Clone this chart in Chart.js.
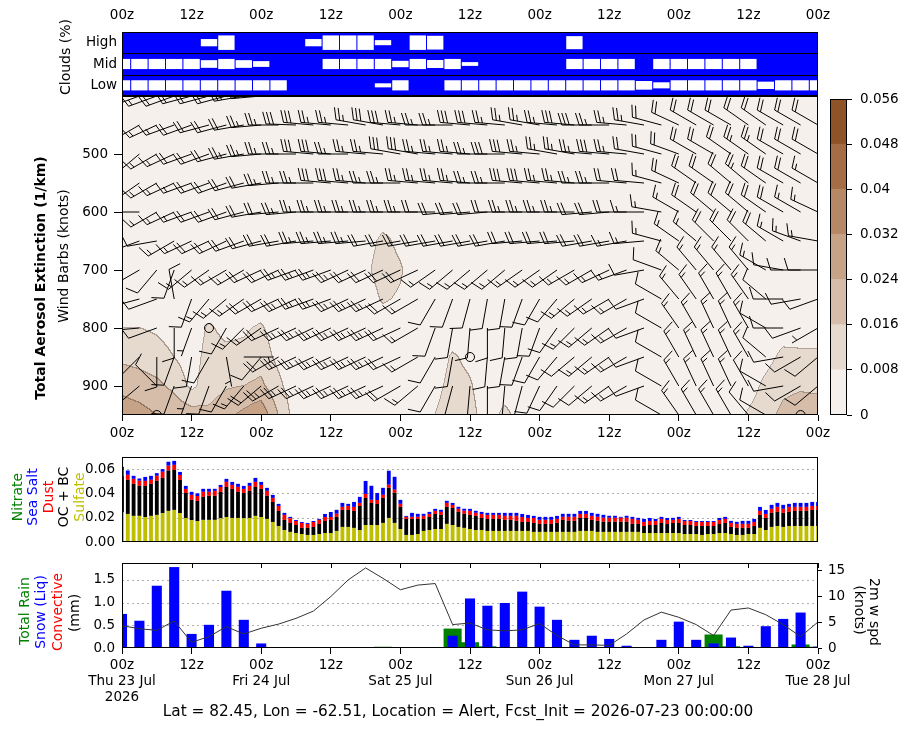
<!DOCTYPE html>
<html>
<head>
<meta charset="utf-8">
<title>Meteogram - Alert</title>
<script src="https://cdn.jsdelivr.net/npm/chart.js@4.4.1/dist/chart.umd.min.js"></script>
<style>
  body { margin: 0; background: #fff; }
  #page { position: relative; width: 909px; height: 730px; overflow: hidden; font-family: "DejaVu Sans", sans-serif; color: #000; }
  #page canvas { position: absolute; }
  .lab { position: absolute; white-space: nowrap; font-size: 14px; line-height: 1; transform: translate(-50%, -50%) rotate(-90deg); }
  .lab.cw { transform: translate(-50%, -50%) rotate(90deg); }
  .title { position: absolute; white-space: nowrap; font-size: 15.3px; transform: translate(-50%, -50%); }
</style>
</head>
<body>
<div id="page">
  <canvas id="cloudChart" width="909" height="100" style="left:0;top:0"></canvas>
  <canvas id="extChart" width="909" height="360" style="left:0;top:90px"></canvas>
  <canvas id="cbarChart" width="89" height="340" style="left:820px;top:90px"></canvas>
  <canvas id="specChart" width="909" height="110" style="left:0;top:450px"></canvas>
  <canvas id="precipChart" width="909" height="175" style="left:0;top:555px"></canvas>

  <div class="lab" style="left:65px;top:57px">Clouds (%)</div>
  <div class="lab" style="left:40px;top:278px;font-weight:bold">Total Aerosol Extinction (1/km)</div>
  <div class="lab" style="left:63px;top:256px">Wind Barbs (knots)</div>

  <div class="lab" style="left:17px;top:497px;color:#008000">Nitrate</div>
  <div class="lab" style="left:32px;top:497px;color:#0000ff">Sea Salt</div>
  <div class="lab" style="left:48px;top:497px;color:#ff0000">Dust</div>
  <div class="lab" style="left:63px;top:497px">OC + BC</div>
  <div class="lab" style="left:79px;top:497px;color:#bfbf00">Sulfate</div>

  <div class="lab" style="left:24px;top:611px;color:#008000">Total Rain</div>
  <div class="lab" style="left:40px;top:612px;color:#0000ff">Snow (Liq)</div>
  <div class="lab" style="left:57px;top:612px;color:#ff0000">Convective</div>
  <div class="lab" style="left:74px;top:613px">(mm)</div>

  <div class="lab cw" style="left:875px;top:612px">2m w spd</div>
  <div class="lab cw" style="left:860px;top:610px">(knots)</div>

  <div class="title" style="left:458px;top:711px">Lat = 82.45, Lon = -62.51, Location = Alert, Fcst_Init = 2026-07-23 00:00:00</div>
</div>

<script>
// ---- time axis ----
const TICK_HOURS = [0, 12, 24, 36, 48, 60, 72, 84, 96, 108, 120];
const TICK_LABELS = ['00z', '12z', '00z', '12z', '00z', '12z', '00z', '12z', '00z', '12z', '00z'];
const DAY_LABELS = ['Thu 23 Jul', 'Fri 24 Jul', 'Sat 25 Jul', 'Sun 26 Jul', 'Mon 27 Jul', 'Tue 28 Jul'];
const YEAR_LABEL = '2026';
const HOURS3 = [0,3,6,9,12,15,18,21,24,27,30,33,36,39,42,45,48,51,54,57,60,63,66,69,72,75,78,81,84,87,90,93,96,99,102,105,108,111,114,117,120];
const HOURS1 = Array.from({ length: 121 }, (_, i) => i);

// ---- clouds (% cover, 3-hourly) ----
const CLOUD_ROWS = ['Low', 'Mid', 'High'];
const CLOUD_HIGH = [100,100,100,100,100,50,0,100,100,100,100,50,0,0,0,65,100,0,5,100,100,100,100,100,100,100,10,100,100,100,100,100,100,100,100,100,100,100,100,100,100];
const CLOUD_MID  = [30,30,30,30,30,47,30,47,60,100,100,100,30,30,30,30,56,30,45,30,74,100,100,100,100,100,30,30,30,30,100,30,30,30,30,30,30,100,100,100,100];
const CLOUD_LOW  = [30,30,30,30,30,30,30,30,30,30,100,100,100,100,100,72,30,100,100,30,30,30,30,30,30,30,30,30,30,30,40,58,30,30,30,30,30,49,30,30,30];

// ---- aerosol extinction (x0.001 1/km) on pressure levels, 3-hourly ----
const LEVELS = [400, 450, 500, 550, 600, 650, 700, 750, 800, 850, 900, 950];
const PRES_TICKS = [500, 600, 700, 800, 900];
const EXT_400 = [3,3,3,3,3,3,3,3,3,3,3,3,3,3,3,3,3,3,3,3,3,3,3,3,3,3,3,3,3,3,3,3,3,3,3,3,3,3,3,3,3];
const EXT_450 = [3,3,3,3,3,3,3,3,3,3,3,3,3,3,3,3,3,3,3,3,3,3,3,3,3,3,3,3,3,3,3,3,3,3,3,3,3,3,3,3,3];
const EXT_500 = [3,3,3,3,3,3,3,3,3,3,3,3,3,3,3,3,3,3,3,3,3,3,3,3,3,3,3,3,3,3,3,3,3,3,3,3,3,3,3,3,3];
const EXT_550 = [3,3,3,3,3,3,3,3,3,3,3,3,3,3,3,3,3,3,3,3,3,3,3,3,3,3,3,3,3,3,3,3,3,3,3,3,3,3,3,3,3];
const EXT_600 = [3,3,3,3,3,3,3,3,3,3,3,3,3,3,3,3,3,3,3,3,3,3,3,3,3,3,3,3,3,3,3,3,3,3,3,3,3,3,3,3,3];
const EXT_650 = [3,3,3,3,3,3,3,3,3,3,3,3,3,3,4,10,6,3,3,3,3,3,3,3,3,3,3,3,3,3,3,3,3,3,3,3,3,3,3,3,3];
const EXT_700 = [3,3,3,3,3,3,3,3,3,3,3,3,3,3,6,12,9,3,3,3,3,3,3,3,3,3,3,3,3,3,3,3,3,3,3,3,3,3,3,3,3];
const EXT_750 = [4,3,3,3,3,3,3,3,3,3,3,3,3,3,3,9,7,3,3,3,3,3,3,3,3,3,3,3,3,3,3,3,3,3,3,3,3,3,3,3,3];
const EXT_800 = [8,8,7,5,3,9,6,7,9,4,3,3,3,3,3,3,3,3,3,3,3,3,3,3,3,3,3,3,3,3,3,3,3,3,3,3,3,3,4,3,3];
const EXT_850 = [14,13,11,8,4,11,10,10,12,6,3,3,3,3,3,3,3,3,3,9,6,3,3,3,3,3,3,3,3,3,3,3,3,3,3,3,3,5,10,10,10];
const EXT_900 = [22,20,18,14,6,12,15,16,18,10,3,3,3,3,3,3,3,3,5,11,9,3,4,3,3,3,3,3,3,3,3,3,3,3,3,3,4,10,14,15,14];
const EXT_950 = [28,27,24,22,20,18,22,26,30,16,4,3,3,3,3,3,3,3,8,13,11,4,10,5,3,3,3,3,3,3,3,3,3,3,3,3,9,13,18,20,21];
const EXT_UNIT = 0.001;
const CBAR_BOUNDS = [0, 0.008, 0.016, 0.024, 0.032, 0.04, 0.048, 0.056];
const CBAR_COLORS = ['#f5f0eb', '#e6d9cd', '#d6bda9', '#c6a386', '#b68866', '#a46d45', '#8e5326'];

// ---- wind barbs (direction deg, speed kt), 3-hourly per level ----
const WDIR_400 = [245,250,250,250,255,255,255,260,265,270,270,275,275,275,275,280,280,275,275,275,275,275,280,280,280,275,275,275,280,280,280,285,290,295,300,300,300,300,300,300,300];
const WSPD_400 = [15,15,15,20,20,20,20,25,25,25,25,30,30,30,25,25,25,30,30,30,25,25,25,25,30,30,25,25,25,25,25,20,20,20,20,20,20,20,20,20,20];
const WDIR_450 = [235,240,245,250,250,255,255,260,265,270,272,275,275,275,280,280,275,275,270,270,275,275,275,280,280,275,275,270,270,275,280,285,295,300,300,300,305,305,300,300,300];
const WSPD_450 = [10,15,15,15,20,20,20,20,25,25,30,30,25,25,25,30,30,25,25,25,30,30,25,25,25,25,30,30,25,25,25,20,20,20,20,20,20,20,20,20,20];
const WDIR_500 = [240,230,240,245,250,250,255,260,265,270,270,275,275,270,275,275,280,280,275,275,275,270,270,275,275,280,280,275,275,275,280,285,290,300,300,305,305,305,300,300,300];
const WSPD_500 = [10,15,15,15,20,20,20,25,25,25,25,30,30,25,25,25,30,30,25,25,25,25,30,30,25,25,25,25,30,25,20,20,20,20,20,20,25,25,20,20,20];
const WDIR_550 = [230,235,240,245,250,250,250,255,260,265,270,270,275,275,275,270,270,275,275,275,275,270,270,275,275,275,275,270,270,275,275,285,295,305,305,310,310,305,300,300,300];
const WSPD_550 = [10,15,15,15,15,20,20,20,20,25,25,25,30,30,25,25,25,25,25,25,25,25,25,30,30,25,25,25,25,20,20,15,20,20,20,20,25,20,20,20,15];
const WDIR_600 = [260,270,240,245,250,250,250,255,260,265,265,270,270,270,270,270,270,270,270,265,265,265,270,270,270,270,270,265,265,270,270,280,300,305,310,310,310,305,300,300,295];
const WSPD_600 = [10,10,15,15,15,20,20,20,20,20,25,25,25,25,25,25,25,25,20,20,20,20,20,25,25,25,25,20,20,20,15,15,15,20,20,20,20,20,20,15,15];
const WDIR_650 = [240,250,260,240,245,245,245,250,255,260,260,265,265,265,265,260,260,260,260,260,260,260,260,265,265,265,265,260,260,260,265,285,305,310,315,315,315,310,300,290,280];
const WSPD_650 = [10,10,10,15,15,20,20,20,20,20,20,25,25,25,25,20,20,20,20,20,20,20,20,20,20,20,20,20,20,15,15,15,15,15,20,20,20,20,15,15,15];
const WDIR_700 = [250,240,220,200,230,235,240,240,245,245,250,250,250,245,245,245,245,245,235,230,230,230,230,235,235,235,240,240,245,250,260,290,310,320,320,320,320,300,280,270,270];
const WSPD_700 = [10,10,10,10,15,15,15,15,20,20,25,25,25,25,20,20,20,20,15,15,15,15,15,15,15,15,15,15,15,15,10,10,15,15,15,15,15,15,10,10,10];
const WDIR_750 = [260,255,250,350,200,220,230,235,240,245,245,250,250,245,245,245,240,240,210,200,195,190,190,200,210,220,230,235,240,240,250,300,320,325,330,330,325,310,270,260,250];
const WSPD_750 = [10,10,10,10,10,15,15,15,20,20,25,25,25,25,25,25,20,15,10,10,10,10,10,10,10,10,15,15,15,15,10,10,15,15,15,15,15,10,10,10,10];
const WDIR_800 = [270,265,250,180,200,0,210,225,235,245,245,245,245,245,245,245,245,240,200,190,185,180,185,190,200,215,225,230,235,240,250,300,325,330,335,335,330,300,270,250,240];
const WSPD_800 = [10,10,10,10,5,0,10,15,15,20,25,25,25,25,25,25,20,15,10,10,10,10,10,10,10,10,15,15,15,15,10,10,15,15,15,15,15,10,10,10,5];
const WDIR_850 = [230,225,180,200,190,210,170,90,220,240,245,245,245,245,245,245,245,240,210,190,0,185,190,200,210,220,230,230,235,240,250,300,330,335,335,335,330,310,260,240,230];
const WSPD_850 = [15,10,10,10,10,10,5,5,10,20,25,25,25,25,25,25,20,15,10,10,0,10,10,10,10,10,10,15,15,15,10,10,15,15,15,15,15,10,10,10,10];
const WDIR_900 = [225,230,315,200,200,200,210,220,230,240,245,245,245,245,245,245,240,230,210,195,185,180,185,195,205,215,225,230,235,240,250,300,330,335,335,335,330,300,260,240,230];
const WSPD_900 = [15,10,10,10,5,10,10,15,20,25,25,25,25,25,25,25,20,15,10,10,10,10,10,10,10,10,10,10,15,15,10,10,15,15,15,15,10,10,10,10,10];
const WDIR_950 = [220,225,0,200,210,210,215,225,235,240,245,245,245,245,245,240,235,225,205,195,185,180,185,195,200,210,220,225,230,235,250,300,325,330,330,330,320,300,250,0,230];
const WSPD_950 = [10,10,0,10,10,10,10,15,15,20,20,25,25,20,20,20,20,15,10,10,10,10,10,10,10,10,10,10,10,10,10,10,15,15,15,15,10,10,10,0,10];

// ---- aerosol species (1/km), hourly ----
const SPEC_TICKS = [0, 0.02, 0.04, 0.06];
const SULFATE = [.0242,.0231,.0215,.0215,.0206,.0215,.0223,.0239,.0256,.0264,.0239,.0198,.0179,.0173,.0182,.0182,.0182,.0195,.0206,.0198,.0198,.0195,.0198,.0215,.0206,.0190,.0165,.0132,.0099,.0083,.0074,.0066,.0058,.0058,.0066,.0074,.0074,.0091,.0124,.0124,.0116,.0099,.0140,.0140,.0140,.0157,.0198,.0157,.0107,.0058,.0058,.0066,.0091,.0099,.0107,.0107,.0149,.0140,.0124,.0116,.0107,.0099,.0099,.0091,.0091,.0091,.0091,.0091,.0091,.0091,.0091,.0083,.0083,.0083,.0083,.0083,.0083,.0083,.0083,.0091,.0091,.0091,.0083,.0083,.0083,.0083,.0083,.0083,.0083,.0083,.0074,.0074,.0074,.0074,.0074,.0074,.0074,.0066,.0066,.0066,.0058,.0066,.0066,.0074,.0074,.0066,.0058,.0058,.0066,.0066,.0116,.0099,.0124,.0132,.0124,.0132,.0132,.0132,.0132,.0132,.0132];
const OC_BC = [.0305,.0281,.0264,.0248,.0256,.0264,.0281,.0289,.0333,.0330,.0272,.0206,.0168,.0165,.0190,.0198,.0198,.0217,.0248,.0239,.0215,.0209,.0223,.0239,.0231,.0190,.0165,.0124,.0083,.0074,.0066,.0050,.0058,.0066,.0083,.0099,.0107,.0116,.0140,.0140,.0140,.0198,.0223,.0182,.0173,.0206,.0248,.0248,.0182,.0132,.0132,.0124,.0099,.0107,.0124,.0116,.0140,.0140,.0124,.0116,.0116,.0116,.0099,.0099,.0099,.0099,.0091,.0091,.0083,.0074,.0074,.0074,.0066,.0066,.0066,.0074,.0099,.0091,.0091,.0107,.0107,.0091,.0091,.0083,.0083,.0083,.0083,.0083,.0066,.0066,.0058,.0066,.0066,.0083,.0074,.0083,.0083,.0074,.0074,.0066,.0074,.0066,.0066,.0074,.0083,.0058,.0058,.0058,.0050,.0066,.0107,.0099,.0116,.0116,.0116,.0116,.0124,.0124,.0124,.0132,.0132];
const DUST = [.0039,.0041,.0041,.0041,.0041,.0033,.0041,.0050,.0039,.0041,.0041,.0033,.0041,.0041,.0041,.0033,.0041,.0041,.0041,.0033,.0041,.0033,.0041,.0041,.0033,.0041,.0033,.0041,.0041,.0039,.0033,.0041,.0033,.0041,.0033,.0033,.0025,.0025,.0025,.0033,.0033,.0025,.0033,.0025,.0033,.0025,.0025,.0025,.0025,.0017,.0017,.0017,.0025,.0025,.0025,.0025,.0033,.0025,.0025,.0025,.0033,.0025,.0033,.0033,.0033,.0033,.0033,.0033,.0041,.0041,.0033,.0041,.0033,.0033,.0033,.0033,.0025,.0033,.0033,.0033,.0033,.0033,.0033,.0033,.0033,.0033,.0033,.0033,.0041,.0033,.0033,.0033,.0033,.0033,.0033,.0025,.0033,.0033,.0033,.0033,.0033,.0033,.0033,.0033,.0033,.0033,.0033,.0033,.0033,.0033,.0033,.0033,.0033,.0041,.0033,.0041,.0033,.0033,.0033,.0033,.0033];
const SEA_SALT = [.0033,.0036,.0025,.0019,.0033,.0033,.0022,.0022,.0033,.0033,.0025,.0025,.0025,.0022,.0025,.0025,.0017,.0017,.0025,.0025,.0025,.0025,.0025,.0033,.0025,.0025,.0025,.0017,.0017,.0011,.0008,.0008,.0008,.0008,.0008,.0025,.0041,.0033,.0033,.0017,.0041,.0050,.0107,.0116,.0058,.0058,.0116,.0107,.0033,.0008,.0033,.0025,.0017,.0017,.0017,.0017,.0017,.0017,.0017,.0017,.0017,.0017,.0017,.0017,.0017,.0017,.0025,.0025,.0025,.0025,.0025,.0017,.0025,.0025,.0025,.0025,.0025,.0025,.0025,.0025,.0025,.0025,.0025,.0025,.0017,.0017,.0008,.0017,.0017,.0017,.0025,.0025,.0017,.0017,.0017,.0017,.0017,.0008,.0008,.0008,.0008,.0008,.0008,.0017,.0017,.0017,.0017,.0025,.0025,.0025,.0033,.0033,.0033,.0033,.0033,.0025,.0033,.0033,.0033,.0033,.0033];

// ---- precipitation (mm / 3h) and 2 m wind (kt) ----
const PRECIP_TICKS = [0, 0.5, 1.0, 1.5];
const WIND_TICKS = [0, 5, 10, 15];
const SNOW_LIQ = [0.75,0.60,1.37,1.78,0.31,0.51,1.26,0.62,0.10,0,0,0,0,0,0,0,0,0,0,0.27,1.09,0.93,0.99,1.24,0.91,0.62,0.18,0.27,0.20,0.05,0,0.18,0.58,0.18,0.10,0.23,0.05,0.48,0.64,0.78,0.03];
const TOTAL_RAIN = [0,0,0,0,0,0,0,0,0,0,0,0,0,0,0,0.02,0,0,0,0.42,0.12,0.03,0,0,0,0,0,0,0,0,0,0,0,0,0.29,0.03,0,0,0,0.07,0.02];
const WSPD_2M = [4.3,3.7,3.4,5.2,1.1,2.2,4.1,2.7,3.8,4.6,5.7,7.1,9.9,13.1,15.4,13.4,11.2,12.1,12.4,4.5,4.8,3.5,3.3,3.5,4.7,2.4,0.6,0.6,0.5,2.7,5.4,6.9,5.9,4.5,2.4,7.3,7.7,6.4,4.5,2.2,5.0];

// ---------------------------------------------------------------
const FONT = { family: 'DejaVu Sans', size: 13.5, lineHeight: 1.19 };
const EXT_GRID = [EXT_400, EXT_450, EXT_500, EXT_550, EXT_600, EXT_650, EXT_700, EXT_750, EXT_800, EXT_850, EXT_900, EXT_950];
const WDIR = [WDIR_400, WDIR_450, WDIR_500, WDIR_550, WDIR_600, WDIR_650, WDIR_700, WDIR_750, WDIR_800, WDIR_850, WDIR_900, WDIR_950];
const WSPD = [WSPD_400, WSPD_450, WSPD_500, WSPD_550, WSPD_600, WSPD_650, WSPD_700, WSPD_750, WSPD_800, WSPD_850, WSPD_900, WSPD_950];

function setTicks(list) {
  return s => { s.ticks = list.map(v => ({ value: v })); };
}

// fix an axis box size and drop the label-overflow padding chart.js adds
function fitBox(dim, size) {
  return s => {
    if (dim) s[dim] = size;
    s.paddingTop = 0; s.paddingBottom = 0; s.paddingLeft = 0; s.paddingRight = 0;
  };
}

const NO_GRID = { display: false, drawTicks: false };

function timeAxis(opts) {
  return Object.assign({
    type: 'linear', min: 0, max: 120, offset: false,
    afterBuildTicks: setTicks(TICK_HOURS),
    ticks: { color: '#000', font: FONT, maxRotation: 0, autoSkip: false, padding: 4,
      callback: (v, i) => TICK_LABELS[i] },
    grid: { drawOnChartArea: false, drawTicks: true, tickLength: 6, tickColor: '#000', offset: false },
    border: { display: false }
  }, opts);
}

// black frame round the plot area, with optional extra drawing
function framePlugin(id, extra) {
  return {
    id: id,
    beforeDatasetsDraw(chart) {
      if (extra && extra.before) extra.before(chart);
    },
    afterDraw(chart) {
      const { ctx, chartArea: a } = chart;
      if (extra && extra.after) extra.after(chart);
      ctx.save();
      ctx.strokeStyle = '#000';
      ctx.lineWidth = 1;
      ctx.strokeRect(Math.round(a.left) + 0.5, Math.round(a.top) + 0.5, Math.round(a.right - a.left) - 1, Math.round(a.bottom - a.top) - 1);
      ctx.restore();
    }
  };
}

function dottedGrid(chart, axisId, values) {
  const { ctx, chartArea: a } = chart;
  const sc = chart.scales[axisId];
  ctx.save();
  ctx.strokeStyle = '#b0b0b0';
  ctx.lineWidth = 1;
  ctx.setLineDash([2, 3]);
  values.forEach(v => {
    const y = Math.round(sc.getPixelForValue(v)) + 0.5;
    ctx.beginPath(); ctx.moveTo(a.left, y); ctx.lineTo(a.right, y); ctx.stroke();
  });
  ctx.restore();
}

const common = {
  responsive: false, animation: false, devicePixelRatio: 1,
  plugins: { legend: { display: false }, tooltip: { enabled: false } }
};

// ================= clouds =================
function cloudData(values, row) {
  const out = [];
  values.forEach((c, i) => {
    if (c >= 100) return;
    const half = (100 - c) / 100 * 0.34;
    out.push({ x: HOURS3[i], y: [row + 0.5 - half, row + 0.5 + half] });
  });
  return out;
}
const cloudBar = { backgroundColor: '#ffffff', borderWidth: 0, grouped: false, barPercentage: 0.94, categoryPercentage: 1 };

new Chart(document.getElementById('cloudChart'), {
  type: 'bar',
  data: {
    datasets: [
      Object.assign({ label: 'High', data: cloudData(CLOUD_HIGH, 2) }, cloudBar),
      Object.assign({ label: 'Mid', data: cloudData(CLOUD_MID, 1) }, cloudBar),
      Object.assign({ label: 'Low', data: cloudData(CLOUD_LOW, 0) }, cloudBar)
    ]
  },
  options: Object.assign({}, common, {
    layout: { padding: { left: 0, right: 91, top: 0, bottom: 4 } },
    scales: {
      x: timeAxis({ position: 'top', afterFit: fitBox('height', 32), grid: NO_GRID,
        ticks: { color: '#000', font: FONT, maxRotation: 0, autoSkip: false, padding: 8, callback: (v, i) => TICK_LABELS[i] } }),
      y: { min: 0, max: 3, afterFit: fitBox('width', 122),
        afterBuildTicks: setTicks([0.5, 1.5, 2.5]),
        ticks: { color: '#000', font: FONT, padding: 5, callback: (v, i) => CLOUD_ROWS[i] },
        grid: NO_GRID, border: { display: false } }
    }
  }),
  plugins: [framePlugin('cloudFrame', {
    before(chart) {
      const { ctx, chartArea: a } = chart;
      ctx.save(); ctx.fillStyle = '#0000ff';
      ctx.fillRect(a.left, a.top, a.right - a.left, a.bottom - a.top); ctx.restore();
    },
    after(chart) {
      const { ctx, chartArea: a, scales } = chart;
      ctx.save(); ctx.strokeStyle = '#000'; ctx.lineWidth = 1;
      [1, 2].forEach(v => {
        const y = Math.round(scales.y.getPixelForValue(v)) + 0.5;
        ctx.beginPath(); ctx.moveTo(a.left, y); ctx.lineTo(a.right, y); ctx.stroke();
      });
      ctx.restore();
    }
  })]
});

// ================= extinction + wind barbs =================
function locate(arr, v) {
  if (v <= arr[0]) return [0, 0];
  for (let n = 0; n < arr.length - 1; n++) {
    if (v <= arr[n + 1]) return [n, (v - arr[n]) / (arr[n + 1] - arr[n])];
  }
  return [arr.length - 2, 1];
}

const contourPlugin = {
  id: 'contour',
  beforeDatasetsDraw(chart) {
    const { ctx, chartArea: a, scales } = chart;
    const x0 = Math.round(a.left), y0 = Math.round(a.top);
    const w = Math.round(a.right) - x0, h = Math.round(a.bottom) - y0;
    const cols = [], rows = [];
    for (let i = 0; i < w; i++) cols.push(locate(HOURS3, scales.x.getValueForPixel(x0 + i + 0.5)));
    for (let j = 0; j < h; j++) rows.push(locate(LEVELS, scales.y.getValueForPixel(y0 + j + 0.5)));
    const lev = new Int8Array(w * h);
    for (let j = 0; j < h; j++) {
      const [l, fy] = rows[j];
      const r0 = EXT_GRID[l], r1 = EXT_GRID[l + 1];
      for (let i = 0; i < w; i++) {
        const [k, fx] = cols[i];
        const top = r0[k] * (1 - fx) + r0[k + 1] * fx;
        const bot = r1[k] * (1 - fx) + r1[k + 1] * fx;
        const v = (top * (1 - fy) + bot * fy) * EXT_UNIT;
        let n = 0;
        while (n < CBAR_BOUNDS.length - 2 && v >= CBAR_BOUNDS[n + 1]) n++;
        lev[j * w + i] = n;
      }
    }
    const rgb = CBAR_COLORS.map(c => [parseInt(c.slice(1, 3), 16), parseInt(c.slice(3, 5), 16), parseInt(c.slice(5, 7), 16)]);
    const img = ctx.createImageData(w, h);
    for (let j = 0; j < h; j++) {
      for (let i = 0; i < w; i++) {
        const idx = j * w + i, n = lev[idx];
        let c = rgb[n];
        const edge = (i < w - 1 && lev[idx + 1] !== n) || (j < h - 1 && lev[idx + w] !== n);
        if (edge) c = [c[0] * 0.72, c[1] * 0.68, c[2] * 0.66];
        img.data[idx * 4] = c[0]; img.data[idx * 4 + 1] = c[1]; img.data[idx * 4 + 2] = c[2]; img.data[idx * 4 + 3] = 255;
      }
    }
    ctx.putImageData(img, x0, y0);
  }
};

function drawBarb(ctx, x, y, dir, spd) {
  const L = 30;
  const r = Math.round(spd / 5) * 5;
  if (r < 5) {
    ctx.beginPath(); ctx.arc(x, y, 0.15 * L, 0, Math.PI * 2); ctx.stroke();
    return;
  }
  const t = dir * Math.PI / 180;
  const sx = Math.sin(t), sy = -Math.cos(t);
  const px = -sy, py = sx;
  const H = 0.4 * L, W = 0.25 * L, sp = 0.125 * L;
  const n50 = Math.floor(r / 50);
  const rest = r - n50 * 50;
  const n10 = Math.floor(rest / 10);
  const n5 = rest % 10 >= 5 ? 1 : 0;
  ctx.beginPath();
  ctx.moveTo(x, y); ctx.lineTo(x + sx * L, y + sy * L);
  let off = L;
  for (let i = 0; i < n50; i++) {
    const bx = x + sx * off, by = y + sy * off;
    ctx.moveTo(bx, by);
    ctx.lineTo(bx + px * H + sx * W / 2, by + py * H + sy * W / 2);
    ctx.lineTo(bx - sx * W, by - sy * W);
    off -= W + sp;
  }
  if (n50 === 0 && n10 === 0) off -= 1.5 * sp;
  for (let i = 0; i < n10; i++) {
    const bx = x + sx * off, by = y + sy * off;
    ctx.moveTo(bx, by);
    ctx.lineTo(bx + px * H + sx * W / 2, by + py * H + sy * W / 2);
    off -= sp;
  }
  if (n5) {
    const bx = x + sx * off, by = y + sy * off;
    ctx.moveTo(bx, by);
    ctx.lineTo(bx + px * H / 2 + sx * W / 4, by + py * H / 2 + sy * W / 4);
  }
  ctx.stroke();
}

const barbPlugin = {
  id: 'barbs',
  afterDatasetsDraw(chart) {
    const { ctx, chartArea: a } = chart;
    const meta = chart.getDatasetMeta(0);
    const raw = chart.data.datasets[0].data;
    ctx.save();
    ctx.beginPath(); ctx.rect(a.left, a.top, a.right - a.left, a.bottom - a.top); ctx.clip();
    ctx.strokeStyle = '#000'; ctx.lineWidth = 1;
    meta.data.forEach((pt, i) => drawBarb(ctx, pt.x, pt.y, raw[i].dir, raw[i].spd));
    ctx.restore();
  }
};

const barbPoints = [];
LEVELS.forEach((p, li) => {
  HOURS3.forEach((hr, k) => barbPoints.push({ x: hr, y: p, dir: WDIR[li][k], spd: WSPD[li][k] }));
});

new Chart(document.getElementById('extChart'), {
  type: 'scatter',
  data: { datasets: [{ label: 'Wind', data: barbPoints, pointRadius: 0, showLine: false }] },
  options: Object.assign({}, common, {
    layout: { padding: { left: 0, right: 91, top: 6, bottom: 0 } },
    scales: {
      x: timeAxis({ afterFit: fitBox('height', 35) }),
      y: { min: 400, max: 950, reverse: true, afterFit: fitBox('width', 122),
        afterBuildTicks: setTicks(PRES_TICKS),
        ticks: { color: '#000', font: FONT, padding: 6 },
        grid: { drawOnChartArea: false, tickLength: 8, tickColor: '#000' }, border: { display: false } }
    }
  }),
  plugins: [contourPlugin, barbPlugin, framePlugin('extFrame')]
});

// ================= colour bar =================
new Chart(document.getElementById('cbarChart'), {
  type: 'bar',
  data: {
    labels: [''],
    datasets: CBAR_COLORS.map((c, i) => ({
      data: [CBAR_BOUNDS[i + 1] - CBAR_BOUNDS[i]], backgroundColor: c, borderWidth: 0,
      barPercentage: 1, categoryPercentage: 1
    }))
  },
  options: Object.assign({}, common, {
    layout: { padding: { left: 10, right: 0, top: 9, bottom: 15 } },
    scales: {
      x: { display: false, stacked: true },
      y: { stacked: true, position: 'right', min: 0, max: 0.056, afterFit: fitBox('width', 62),
        afterBuildTicks: setTicks(CBAR_BOUNDS),
        ticks: { color: '#000', font: FONT, padding: 8, callback: v => String(+v.toFixed(3)) },
        grid: { drawOnChartArea: false, tickLength: 5, tickColor: '#000' }, border: { display: false } }
    }
  }),
  plugins: [framePlugin('cbarFrame')]
});

// ================= aerosol species =================
function hourly(values) { return values.map((v, i) => ({ x: HOURS1[i], y: v })); }
const specBar = { borderWidth: 0, barPercentage: 0.66, categoryPercentage: 1 };

new Chart(document.getElementById('specChart'), {
  type: 'bar',
  data: {
    datasets: [
      Object.assign({ label: 'Sulfate', data: hourly(SULFATE), backgroundColor: '#bfbf00' }, specBar),
      Object.assign({ label: 'OC + BC', data: hourly(OC_BC), backgroundColor: '#000000' }, specBar),
      Object.assign({ label: 'Dust', data: hourly(DUST), backgroundColor: '#ff0000' }, specBar),
      Object.assign({ label: 'Sea Salt', data: hourly(SEA_SALT), backgroundColor: '#0000ff' }, specBar)
    ]
  },
  options: Object.assign({}, common, {
    layout: { padding: { left: 0, right: 91, top: 7, bottom: 18 } },
    scales: {
      x: { type: 'linear', min: 0, max: 120, offset: false, stacked: true, display: false },
      y: { stacked: true, min: 0, max: 0.07, afterFit: fitBox('width', 122),
        afterBuildTicks: setTicks(SPEC_TICKS),
        ticks: { color: '#000', font: FONT, padding: 7, callback: v => v.toFixed(2) },
        grid: NO_GRID, border: { display: false } }
    }
  }),
  plugins: [framePlugin('specFrame', { before: c => dottedGrid(c, 'y', SPEC_TICKS.slice(1)) })]
});

// ================= precipitation + 2 m wind =================
function threeHourly(values) { return values.map((v, i) => ({ x: HOURS3[i], y: v })); }

new Chart(document.getElementById('precipChart'), {
  type: 'bar',
  data: {
    datasets: [
      { type: 'line', label: '2m w spd', data: threeHourly(WSPD_2M), yAxisID: 'y1',
        borderColor: '#333333', borderWidth: 1, pointRadius: 0, tension: 0 },
      { label: 'Snow (Liq)', data: threeHourly(SNOW_LIQ), backgroundColor: '#0000ff', borderWidth: 0,
        grouped: false, barPercentage: 0.58, categoryPercentage: 1 },
      { label: 'Total Rain', data: threeHourly(TOTAL_RAIN), backgroundColor: '#008000', borderWidth: 0,
        grouped: false, barPercentage: 1, categoryPercentage: 1 }
    ]
  },
  options: Object.assign({}, common, {
    layout: { padding: { left: 0, right: 51, top: 8, bottom: 0 } },
    scales: {
      x: timeAxis({ afterFit: fitBox('height', 82),
        ticks: { color: '#000', font: FONT, maxRotation: 0, autoSkip: false, padding: 3,
          callback: (v, i) => {
            if (i % 2 !== 0) return TICK_LABELS[i];
            const lines = [TICK_LABELS[i], DAY_LABELS[i / 2]];
            if (i === 0) lines.push(YEAR_LABEL);
            return lines;
          } } }),
      y: { min: 0, max: 1.87, afterFit: fitBox('width', 122),
        afterBuildTicks: setTicks(PRECIP_TICKS),
        ticks: { color: '#000', font: FONT, padding: 7, callback: v => v.toFixed(1) },
        grid: NO_GRID, border: { display: false } },
      y1: { position: 'right', min: 0, max: 16.35, afterFit: fitBox('width', 40),
        afterBuildTicks: setTicks(WIND_TICKS),
        ticks: { color: '#000', font: FONT, padding: 6 },
        grid: { drawOnChartArea: false, tickLength: 4, tickColor: '#000' }, border: { display: false } }
    }
  }),
  plugins: [framePlugin('precipFrame', {
    before: c => dottedGrid(c, 'y', PRECIP_TICKS.slice(1)),
    after(chart) {
      const { ctx, chartArea: a, scales } = chart;
      ctx.save(); ctx.strokeStyle = '#000'; ctx.lineWidth = 1;
      TICK_HOURS.forEach(hr => {
        const x = Math.round(scales.x.getPixelForValue(hr)) + 0.5;
        ctx.beginPath(); ctx.moveTo(x, a.top); ctx.lineTo(x, a.top + 5); ctx.stroke();
      });
      ctx.restore();
    }
  })]
});
</script>
</body>
</html>
